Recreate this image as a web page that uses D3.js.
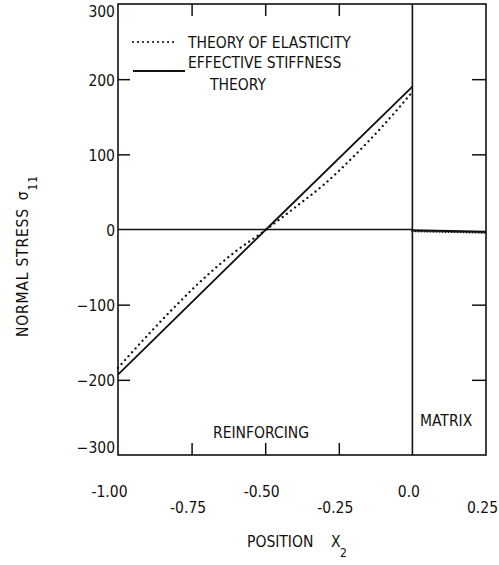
<!DOCTYPE html>
<html>
<head>
<meta charset="utf-8">
<script src="https://cdn.jsdelivr.net/npm/d3@7"></script>
<style>
  body { margin: 0; background: #fff; }
  svg text { font-family: "Liberation Sans Narrow", "DejaVu Sans Condensed", sans-serif; fill: #111; }
</style>
</head>
<body>
<div id="viz"></div>
<script>
// values
var posX = [-1.0, -0.9, -0.8, -0.7, -0.6, -0.5, -0.4, -0.3, -0.2, -0.1, 0.0];
var elasticity = [-184, -141, -100, -62, -29, -1, 29, 60, 97, 138, 183];   // dotted
var stiffX = [-1.0, -0.5, 0.0];
var stiffness = [-193, -1, 190];                                         // solid
var matrixX = [0.0, 0.125, 0.25];
var matrixStress = [-1, -2, -3];

var yTicks = [300, 200, 100, 0, -100, -200, -300];
var xTicks = [-1.0, -0.75, -0.5, -0.25, 0.0, 0.25];
var xTickLabels = ["-1.00", "-0.75", "-0.50", "-0.25", "0.0", "0.25"];
var innerTicksX = [-0.75, -0.5, -0.25];
var innerTicksY = [200, 100, -100, -200];

var screenWidth = 499, screenHeight = 565;
var plotLeft = 118, plotRight = 486, plotTop = 4, plotBottom = 455;

var svg = d3.select("div#viz")
            .append("svg")
            .attr("width", screenWidth)
            .attr("height", screenHeight);

var xScale = d3.scaleLinear().domain([-1, 0.25]).range([plotLeft, plotRight]),
    yScale = d3.scaleLinear().domain([-300, 300]).range([plotBottom, plotTop]);

// frame
svg.append("rect")
   .attr("x", plotLeft).attr("y", plotTop)
   .attr("width", plotRight - plotLeft).attr("height", plotBottom - plotTop)
   .attr("fill", "none").attr("stroke", "#111").attr("stroke-width", 1.6);

// left axis: inward ticks + labels
var yAxis = d3.axisLeft(yScale)
              .tickValues(yTicks)
              .tickSizeInner(-12).tickSizeOuter(0).tickPadding(3)
              .tickFormat(d3.format("d"));
var gy = svg.append("g").attr("transform", "translate(" + plotLeft + ",0)").call(yAxis);
gy.select(".domain").remove();
gy.selectAll(".tick line")
  .attr("stroke", "#111").attr("stroke-width", 1.5)
  .filter(function(d) { return innerTicksY.indexOf(d) < 0; }).remove();
gy.selectAll(".tick text")
  .attr("font-size", 15.5)
  .attr("y", function(d) { return d === 300 ? 8 : (d === -300 ? -7 : 1); });

// right axis ticks only
var gr = svg.append("g").attr("transform", "translate(" + plotRight + ",0)")
            .call(d3.axisRight(yScale).tickValues(innerTicksY).tickSizeInner(-14).tickSizeOuter(0).tickFormat(""));
gr.select(".domain").remove();
gr.selectAll(".tick line").attr("stroke", "#111").attr("stroke-width", 1.5);

// top axis ticks only
var gt = svg.append("g").attr("transform", "translate(0," + plotTop + ")")
            .call(d3.axisTop(xScale).tickValues(innerTicksX).tickSizeInner(-12).tickSizeOuter(0).tickFormat(""));
gt.select(".domain").remove();
gt.selectAll(".tick line").attr("stroke", "#111").attr("stroke-width", 1.5);

// bottom axis: inward ticks, staggered labels
var xAxis = d3.axisBottom(xScale)
              .tickValues(xTicks)
              .tickSizeInner(-12).tickSizeOuter(0).tickPadding(0)
              .tickFormat(function(d, i) { return xTickLabels[i]; });
var gx = svg.append("g").attr("transform", "translate(0," + plotBottom + ")").call(xAxis);
gx.select(".domain").remove();
gx.selectAll(".tick line")
  .attr("stroke", "#111").attr("stroke-width", 1.5)
  .filter(function(d) { return innerTicksX.indexOf(d) < 0; }).remove();
gx.selectAll(".tick text")
  .attr("font-size", 15.5)
  .attr("dy", null)
  .attr("x", function(d, i) { return i === 0 ? -9 : -4; })
  .attr("y", function(d, i) { return i % 2 === 0 ? 42 : 58; });

// zero line and interface line
svg.append("line")
   .attr("x1", xScale(-1)).attr("x2", xScale(0))
   .attr("y1", yScale(0)).attr("y2", yScale(0))
   .attr("stroke", "#111").attr("stroke-width", 1.5);
svg.append("line")
   .attr("x1", xScale(0)).attr("x2", xScale(0))
   .attr("y1", plotTop).attr("y2", plotBottom)
   .attr("stroke", "#111").attr("stroke-width", 1.6);

var line = d3.line()
             .x(function(d) { return xScale(d[0]); })
             .y(function(d) { return yScale(d[1]); });

// effective stiffness (solid)
svg.append("path")
   .datum(d3.zip(stiffX, stiffness))
   .attr("d", line).attr("fill", "none")
   .attr("stroke", "#111").attr("stroke-width", 1.8);
// theory of elasticity (dotted)
svg.append("path")
   .datum(d3.zip(posX, elasticity))
   .attr("d", line.curve(d3.curveMonotoneX)).attr("fill", "none")
   .attr("stroke", "#111").attr("stroke-width", 2.3)
   .attr("stroke-linecap", "round").attr("stroke-dasharray", "0.01,5.2");
line.curve(d3.curveLinear);
// matrix region, both theories nearly zero
svg.append("path")
   .datum(d3.zip(matrixX, matrixStress))
   .attr("d", line).attr("fill", "none")
   .attr("stroke", "#111").attr("stroke-width", 1.8);
svg.append("path")
   .datum(d3.zip(matrixX, matrixStress))
   .attr("d", line).attr("fill", "none")
   .attr("stroke", "#111").attr("stroke-width", 2.4)
   .attr("stroke-linecap", "round").attr("stroke-dasharray", "0.01,3")
   .attr("transform", "translate(0,0.8)");

// legend
svg.append("line")
   .attr("x1", 133).attr("x2", 178).attr("y1", 42).attr("y2", 42)
   .attr("stroke", "#111").attr("stroke-width", 2.2)
   .attr("stroke-linecap", "round").attr("stroke-dasharray", "0.01,5");
svg.append("text").attr("x", 188).attr("y", 48).attr("font-size", 15.5)
   .text("THEORY OF ELASTICITY");
svg.append("line")
   .attr("x1", 133).attr("x2", 185).attr("y1", 71).attr("y2", 71)
   .attr("stroke", "#111").attr("stroke-width", 2);
svg.append("text").attr("x", 188).attr("y", 68).attr("font-size", 15.5)
   .text("EFFECTIVE STIFFNESS");
svg.append("text").attr("x", 210).attr("y", 90).attr("font-size", 15.5)
   .text("THEORY");

// region labels
svg.append("text").attr("x", 213).attr("y", 438).attr("font-size", 15.5).text("REINFORCING");
svg.append("text").attr("x", 420).attr("y", 426).attr("font-size", 15.5).text("MATRIX");

// axis titles
var xt = svg.append("text").attr("x", 247).attr("y", 547).attr("font-size", 15.5);
xt.append("tspan").text("POSITION");
xt.append("tspan").attr("x", 331).text("X");
xt.append("tspan").attr("x", 340).attr("dy", 10).attr("font-size", 12).text("2");

var yt = svg.append("text")
            .attr("transform", "translate(28,337) rotate(-90)")
            .attr("font-size", 15.5)
            .attr("letter-spacing", 0.8);
yt.append("tspan").text("NORMAL STRESS");
yt.append("tspan").attr("dx", 8).text("σ");
yt.append("tspan").attr("dy", 9).attr("font-size", 12).text("11");
</script>
</body>
</html>
